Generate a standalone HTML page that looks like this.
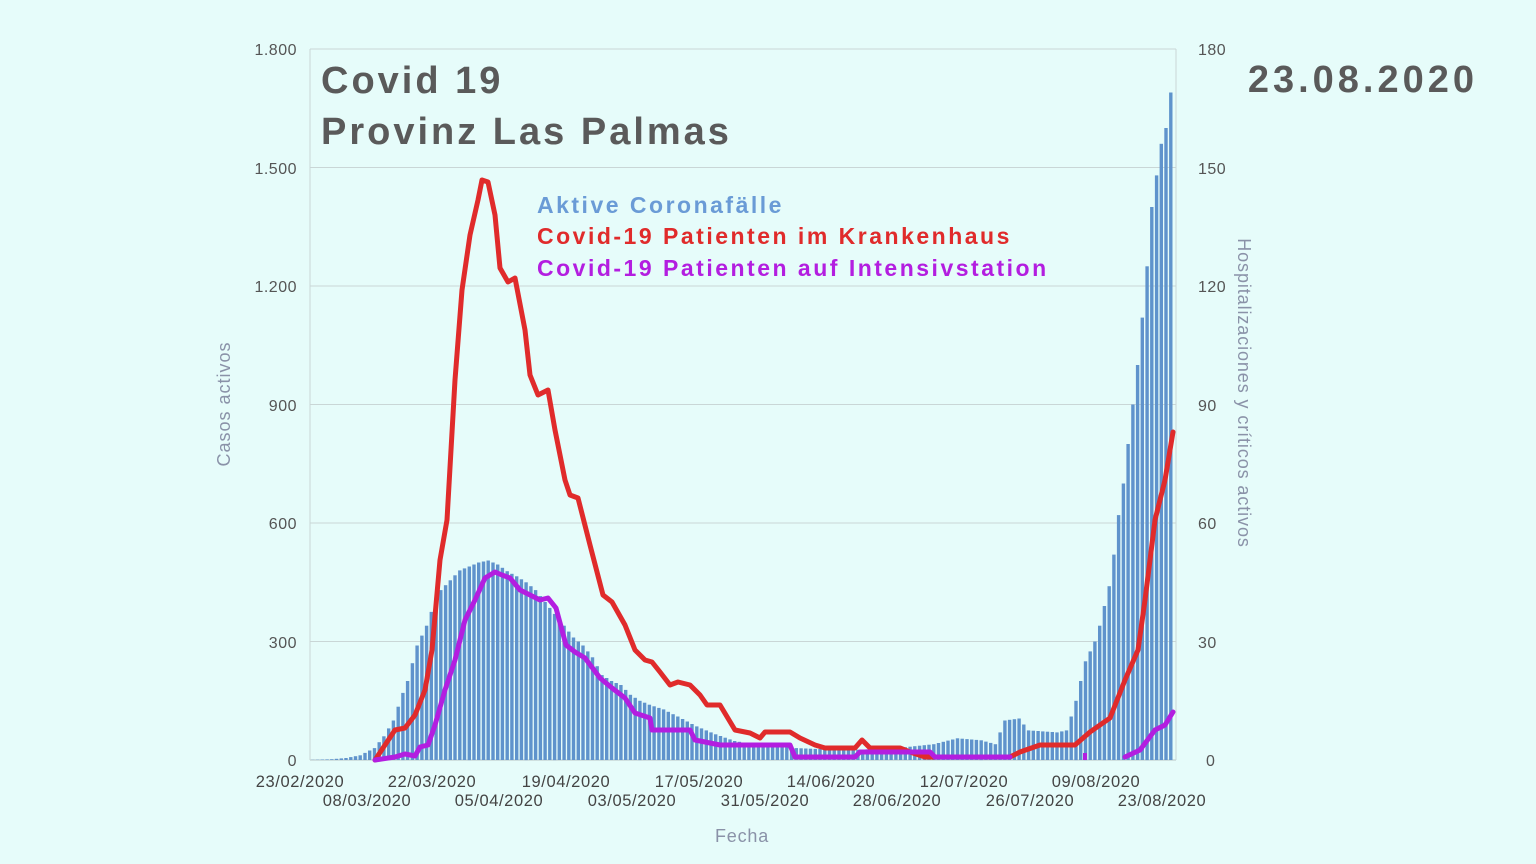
<!DOCTYPE html>
<html><head><meta charset="utf-8"><style>
html,body{margin:0;padding:0;background:#e6fcfa;}
svg{display:block;}
text{font-family:"Liberation Sans",sans-serif;}
</style></head><body>
<svg id="s" width="1536" height="864" xmlns="http://www.w3.org/2000/svg">
<rect width="1536" height="864" fill="#e6fcfa"/>
<g id="grid" stroke="#c9d6d6" stroke-width="1"></g>
<line x1="310" y1="49" x2="310" y2="760" stroke="#c9d6d6"/>
<line x1="1176" y1="49" x2="1176" y2="760" stroke="#c9d6d6"/>
<g id="bars" fill="#5f93cc"></g>
<polyline id="red" fill="none" stroke="#e02b2b" stroke-width="5" stroke-linejoin="round" stroke-linecap="round"/>
<polyline id="pur1" fill="none" stroke="#b31ee0" stroke-width="5" stroke-linejoin="round" stroke-linecap="round"/>
<polyline id="pur2" fill="none" stroke="#b31ee0" stroke-width="5" stroke-linejoin="round" stroke-linecap="round"/>
<rect x="1083" y="753" width="4" height="7" fill="#b31ee0"/>
<g font-size="16" fill="#555" text-anchor="end" letter-spacing="0.5">
<text x="297" y="55">1.800</text><text x="297" y="174">1.500</text><text x="297" y="292">1.200</text>
<text x="297" y="411">900</text><text x="297" y="529">600</text><text x="297" y="648">300</text><text x="297" y="766">0</text>
</g>
<g font-size="16" fill="#555" text-anchor="start" letter-spacing="0.5">
<text x="1198" y="55">180</text><text x="1198" y="174">150</text><text x="1198" y="292">120</text>
<text x="1198" y="411">90</text><text x="1198" y="529">60</text><text x="1198" y="648">30</text><text x="1206" y="766">0</text>
</g>
<g font-size="16.5" fill="#444" text-anchor="middle" letter-spacing="0.6">
<text x="300" y="787">23/02/2020</text><text x="432" y="787">22/03/2020</text><text x="566" y="787">19/04/2020</text>
<text x="699" y="787">17/05/2020</text><text x="831" y="787">14/06/2020</text><text x="964" y="787">12/07/2020</text><text x="1096" y="787">09/08/2020</text>
<text x="367" y="806">08/03/2020</text><text x="499" y="806">05/04/2020</text><text x="632" y="806">03/05/2020</text>
<text x="765" y="806">31/05/2020</text><text x="897" y="806">28/06/2020</text><text x="1030" y="806">26/07/2020</text><text x="1162" y="806">23/08/2020</text>
</g>
<text x="742" y="842" font-size="18" fill="#8a92a8" text-anchor="middle" letter-spacing="0.8">Fecha</text>
<text transform="translate(230,404) rotate(-90)" font-size="18" fill="#8a92a8" text-anchor="middle" letter-spacing="1">Casos activos</text>
<text transform="translate(1238,393) rotate(90)" font-size="18" fill="#8a92a8" text-anchor="middle" letter-spacing="0.9">Hospitalizaciones y críticos activos</text>
<g font-weight="bold" fill="#5a5a5a">
<text x="321" y="93" font-size="38" letter-spacing="3">Covid 19</text>
<text x="321" y="144" font-size="38" letter-spacing="3">Provinz Las Palmas</text>
<text x="1478" y="92" font-size="38" text-anchor="end" letter-spacing="4">23.08.2020</text>
</g>
<g font-size="23" font-weight="bold" letter-spacing="2.5">
<text x="537" y="213" fill="#6a9bd6">Aktive Coronafälle</text>
<text x="537" y="244" fill="#e02b2b">Covid-19 Patienten im Krankenhaus</text>
<text x="537" y="276" fill="#b31ee0">Covid-19 Patienten auf Intensivstation</text>
</g>
</svg>
<script>
var NS="http://www.w3.org/2000/svg";
var g=document.getElementById('grid');
for(var i=0;i<6;i++){var y=49+i*118.5;var l=document.createElementNS(NS,'line');l.setAttribute('x1',310);l.setAttribute('x2',1176);l.setAttribute('y1',y);l.setAttribute('y2',y);g.appendChild(l);}
var bl=document.createElementNS(NS,'line');bl.setAttribute('x1',310);bl.setAttribute('x2',1176);bl.setAttribute('y1',760);bl.setAttribute('y2',760);bl.setAttribute('stroke','#b8c4c4');g.appendChild(bl);
var K=[[0,0],[5,2],[8,5],[11,12],[14,30],[16,60],[18,100],[20,170],[21,200],[23,290],[25,340],[27,410],[28,430],[30,455],[32,480],[34,490],[36,500],[38,505],[40,495],[42,478],[44,465],[46,450],[48,430],[50,400],[52,370],[54,340],[56,310],[58,290],[60,260],[62,215],[64,200],[66,190],[68,165],[70,150],[72,140],[75,128],[78,110],[82,85],[86,65],[90,48],[95,38],[103,30],[114,25],[124,30],[132,40],[137,55],[142,50],[145,40],[147,100],[150,105],[152,75],[158,70],[160,75],[161,110],[162,150],[164,250],[166,300],[167,340],[169,440],[170,520],[171,620],[172,700],[173,800],[174,900],[175,1000],[176,1120],[177,1250],[178,1400],[179,1480],[180,1560],[181,1600],[182,1690]];
function interp(d){for(var i=0;i<K.length-1;i++){if(d>=K[i][0]&&d<=K[i+1][0]){var t=(d-K[i][0])/(K[i+1][0]-K[i][0]);return K[i][1]+t*(K[i+1][1]-K[i][1]);}}return 0;}
var b=document.getElementById('bars');
for(var d=0;d<=182;d++){var v=interp(d);var h=v*711/1800;var x=310+4.74*d-3.6;var r=document.createElementNS(NS,'rect');r.setAttribute('x',x.toFixed(1));r.setAttribute('y',(760-h).toFixed(1));r.setAttribute('width',3.4);r.setAttribute('height',h.toFixed(1));b.appendChild(r);}
document.getElementById('red').setAttribute('points',"375,760 385,745 395,730 405,728 415,715 425,690 432,650 440,560 447,520 455,380 462,290 470,235 478,200 482,180 488,182 495,215 500,268 508,282 515,278 525,330 530,375 538,395 548,390 555,430 565,480 570,495 578,498 590,545 603,595 612,602 625,625 635,650 645,660 652,662 660,672 670,685 678,682 690,685 700,695 707,705 720,705 735,730 750,733 760,738 765,732 790,732 800,738 815,745 825,748 855,748 862,740 870,748 900,748 910,752 925,757 1010,757 1020,752 1040,745 1075,745 1090,732 1110,718 1125,680 1138,650 1145,600 1155,520 1165,480 1173,432");
document.getElementById('pur1').setAttribute('points',"375,760 395,757 405,754 415,756 420,747 428,745 435,725 445,690 455,660 465,620 475,600 485,578 495,572 502,575 510,578 520,590 530,595 540,600 548,598 556,608 566,645 575,652 585,658 600,678 612,688 625,698 635,713 650,718 652,730 690,730 695,740 720,745 790,745 795,757 855,757 860,752 930,752 935,757 1010,757");
document.getElementById('pur2').setAttribute('points',"1125,757 1140,750 1155,730 1165,725 1173,712");
</script>
</body></html>
